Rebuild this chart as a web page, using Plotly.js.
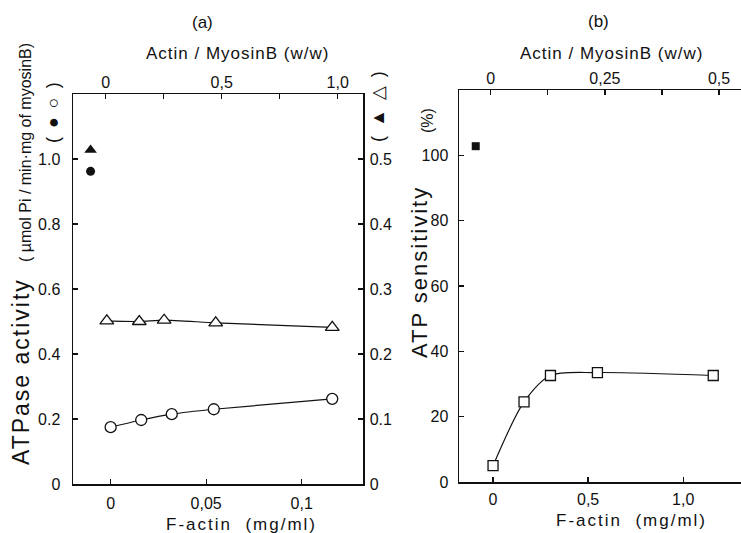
<!DOCTYPE html>
<html>
<head>
<meta charset="utf-8">
<script src="https://cdn.plot.ly/plotly-3.0.1.min.js"></script>
<style>html,body{margin:0;padding:0;background:#fff;}#chart{width:741px;height:533px;}</style>
</head>
<body>
<div id="chart"></div>
<script>
// ---- Data ----
// Panel (a): ATPase activity vs F-actin (mg/ml)
const circleX = [0, 0.016, 0.032, 0.054, 0.116];          // open circles, left axis
const circleY = [0.175, 0.197, 0.215, 0.230, 0.262];
const triangleX = [-0.002, 0.015, 0.028, 0.055, 0.116];    // open triangles, right axis
const triangleY = [0.251, 0.250, 0.252, 0.248, 0.241];
const filledCircleX = [-0.0105];                            // filled circle, left axis
const filledCircleY = [0.962];
const filledTriangleX = [-0.0105];                          // filled triangle, right axis
const filledTriangleY = [0.514];
// Panel (b): ATP sensitivity (%) vs F-actin (mg/ml)
const squareX = [0, 0.163, 0.302, 0.549, 1.158];
const squareY = [5.0, 24.5, 32.6, 33.5, 32.6];
const filledSquareX = [-0.091];
const filledSquareY = [102.8];
// Tick labels
const aBottomTicks = [0, 0.05, 0.1];
const aBottomText = ["0", "0,05", "0,1"];
const aTopTicks = [0, 0.25, 0.5, 0.75, 1.0];
const aTopText = ["0", "", "0,5", "", "1,0"];
const aLeftTicks = [0, 0.2, 0.4, 0.6, 0.8, 1.0];
const aLeftText = ["0", "0.2", "0.4", "0.6", "0.8", "1.0"];
const aRightTicks = [0, 0.1, 0.2, 0.3, 0.4, 0.5];
const aRightText = ["0", "0.1", "0.2", "0.3", "0.4", "0.5"];
const bBottomTicks = [0, 0.5, 1.0];
const bBottomText = ["0", "0,5", "1,0"];
const bTopTicks = [0, 0.125, 0.25, 0.375, 0.5];
const bTopText = ["0", "", "0,25", "", "0,5"];
const bLeftTicks = [0, 20, 40, 60, 80, 100];
const bLeftText = ["0", "20", "40", "60", "80", "100"];

const W = 741, H = 533;
const px = v => v / W;
const py = v => 1 - v / H;
const FONT = "Liberation Sans, Arial, sans-serif";
const ink = "#111";

const traces = [
  {x: circleX, y: circleY, xaxis: 'x', yaxis: 'y', mode: 'lines+markers',
   line: {color: ink, width: 1.2, shape: 'spline', smoothing: 0.6},
   marker: {symbol: 'circle', size: 11, color: '#fff', line: {color: ink, width: 1.3}}},
  {x: triangleX, y: triangleY, xaxis: 'x', yaxis: 'y2', mode: 'lines+markers',
   line: {color: ink, width: 1.2, shape: 'spline', smoothing: 0.6},
   marker: {symbol: 'triangle-up', size: 12, color: '#fff', line: {color: ink, width: 1.3}}},
  {x: filledCircleX, y: filledCircleY, xaxis: 'x', yaxis: 'y', mode: 'markers',
   marker: {symbol: 'circle', size: 9, color: ink}},
  {x: filledTriangleX, y: filledTriangleY, xaxis: 'x', yaxis: 'y2', mode: 'markers',
   marker: {symbol: 'triangle-up', size: 11, color: ink}},
  {x: [], y: [], xaxis: 'x2', yaxis: 'y', mode: 'markers', hoverinfo: 'skip'},
  {x: squareX, y: squareY, xaxis: 'x3', yaxis: 'y3', mode: 'lines+markers',
   line: {color: ink, width: 1.2, shape: 'spline', smoothing: 0.8},
   marker: {symbol: 'square', size: 10, color: '#fff', line: {color: ink, width: 1.3}}},
  {x: filledSquareX, y: filledSquareY, xaxis: 'x3', yaxis: 'y3', mode: 'markers',
   marker: {symbol: 'square', size: 8, color: ink}},
  {x: [], y: [], xaxis: 'x4', yaxis: 'y3', mode: 'markers', hoverinfo: 'skip'}
];

const axBase = {showgrid: false, zeroline: false, showline: true, linecolor: ink, linewidth: 1.5,
  ticks: 'inside', ticklen: 5, tickwidth: 1.3, tickcolor: ink, fixedrange: true, automargin: false,
  tickfont: {family: FONT, size: 16, color: ink}};

const aDomX = [px(73), px(363)], aDomY = [py(484), py(94)];
const bDomX = [px(459), 1], bDomY = [py(482), py(90)];

function note(text, x, y, size, angle) {
  const a = {text: text, x: px(x), y: py(y), xref: 'paper', yref: 'paper', showarrow: false,
    xanchor: 'center', yanchor: 'middle', font: {family: FONT, size: size, color: ink}};
  if (angle) a.textangle = angle;
  return a;
}

const layout = {
  width: W, height: H, margin: {l: 0, r: 0, t: 0, b: 0},
  paper_bgcolor: '#fff', plot_bgcolor: '#fff', showlegend: false,
  font: {family: FONT, color: ink},
  xaxis: Object.assign({}, axBase, {domain: aDomX, anchor: 'y', range: [-0.0197, 0.1321],
    tickmode: 'array', tickvals: aBottomTicks, ticktext: aBottomText, ticklabelstandoff: 4}),
  xaxis2: Object.assign({}, axBase, {overlaying: 'x', side: 'top', anchor: 'y', range: [-0.141, 1.109],
    tickmode: 'array', tickvals: aTopTicks, ticktext: aTopText, ticklabelstandoff: -2}),
  yaxis: Object.assign({}, axBase, {domain: aDomY, anchor: 'x', range: [0, 1.2],
    tickmode: 'array', tickvals: aLeftTicks, ticktext: aLeftText, ticklabelstandoff: 8}),
  yaxis2: Object.assign({}, axBase, {overlaying: 'y', side: 'right', anchor: 'x', range: [0, 0.6],
    tickmode: 'array', tickvals: aRightTicks, ticktext: aRightText, ticklabelstandoff: 2}),
  xaxis3: Object.assign({}, axBase, {domain: bDomX, anchor: 'y3', range: [-0.179, 1.304],
    tickmode: 'array', tickvals: bBottomTicks, ticktext: bBottomText, ticklabelstandoff: 2}),
  xaxis4: Object.assign({}, axBase, {overlaying: 'x3', side: 'top', anchor: 'y3', range: [-0.0695, 0.548],
    tickmode: 'array', tickvals: bTopTicks, ticktext: bTopText, ticklabelstandoff: -2}),
  yaxis3: Object.assign({}, axBase, {domain: bDomY, anchor: 'x3', range: [0, 120],
    tickmode: 'array', tickvals: bLeftTicks, ticktext: bLeftText, ticklabelstandoff: 6}),
  annotations: [
    note('(a)', 203, 22, 17),
    note('(b)', 598, 21, 17),
    note('<span style="letter-spacing:1px">Actin / MyosinB (w/w)</span>', 238, 53, 17),
    note('<span style="letter-spacing:1px">Actin / MyosinB (w/w)</span>', 611, 53, 17),
    note('<span style="letter-spacing:2px">F-actin  (mg/ml)</span>', 242, 524, 17),
    note('<span style="letter-spacing:2px">F-actin  (mg/ml)</span>', 631, 520, 17),
    note('<span style="letter-spacing:2px">ATPase activity</span>', 21, 372, 23, -90),
    note('( µmol Pi / min·mg of myosinB)', 25, 153, 16, -90),
    note('<span style="letter-spacing:2px">( ● ○ )</span>', 53, 111, 18, -90),
    note('<span style="letter-spacing:2px">( ▲ △ )</span>', 378, 106, 18, -90),
    note('<span style="letter-spacing:2px">ATP sensitivity</span>', 419, 272, 22, -90),
    note('(%)', 428, 121, 16, -90)
  ]
};

Plotly.newPlot('chart', traces, layout, {staticPlot: true, displayModeBar: false});
</script>
</body>
</html>
